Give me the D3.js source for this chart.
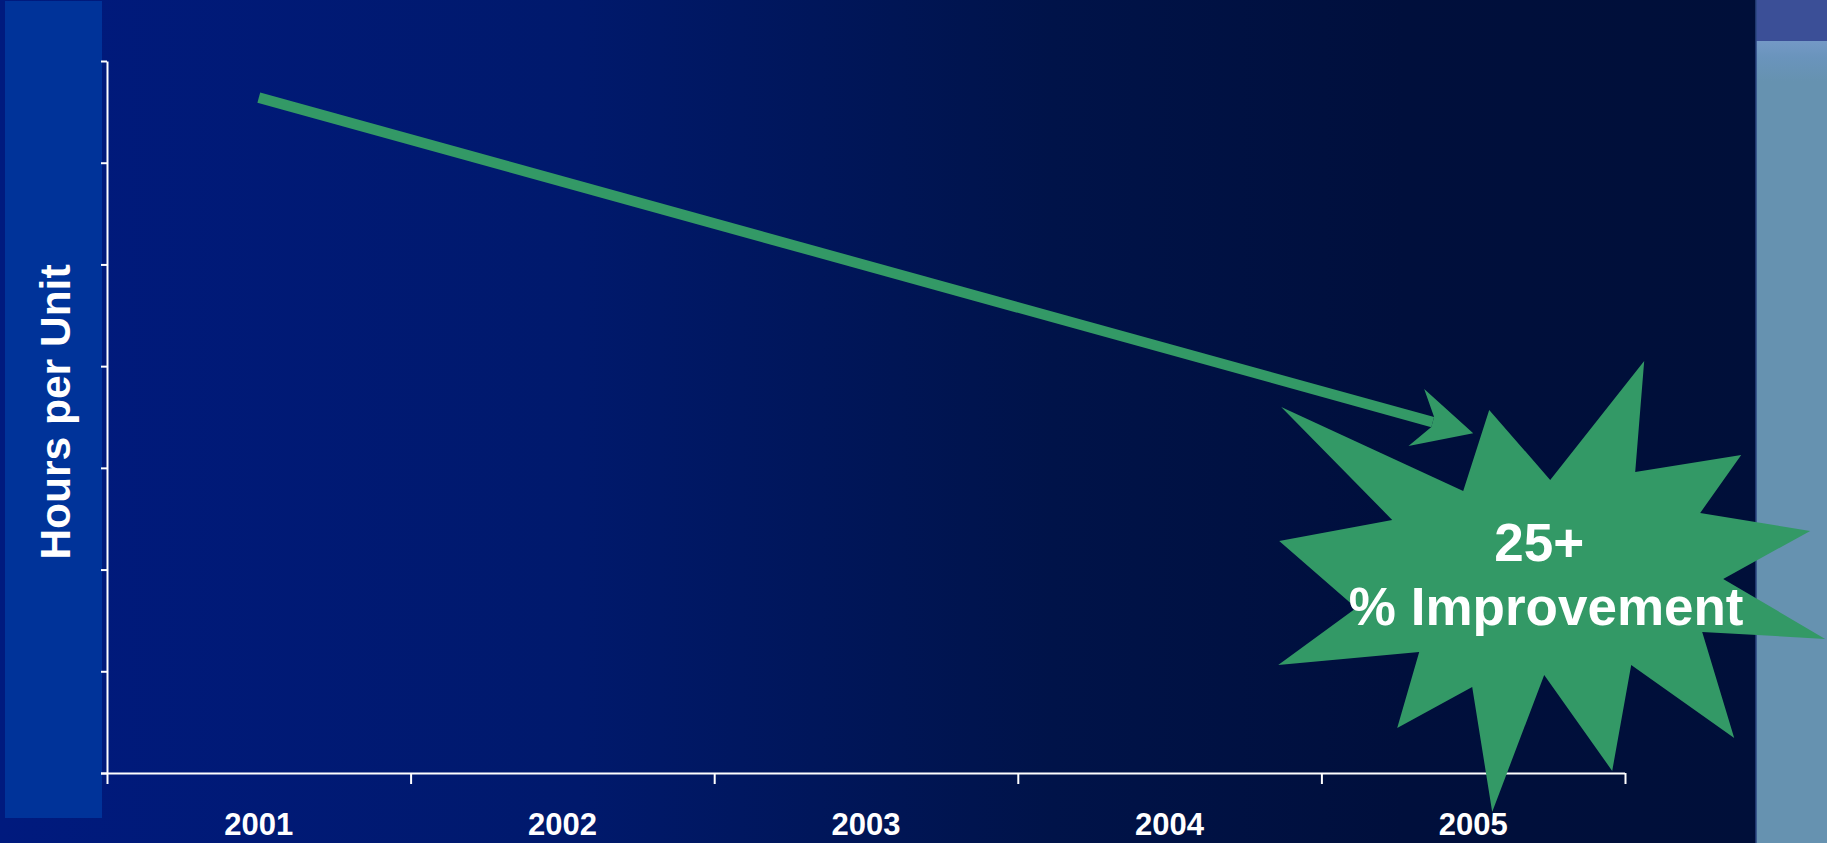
<!DOCTYPE html>
<html>
<head>
<meta charset="utf-8">
<script src="https://cdn.jsdelivr.net/npm/d3@7"></script>
<style>
  html, body { margin: 0; padding: 0; background: #001a7c; }
  svg { display: block; }
  text { font-family: "Liberation Sans", Arial, sans-serif; font-weight: bold; fill: #ffffff; }
</style>
</head>
<body>
<svg id="chart" width="1827" height="843"></svg>
<script>
// Years on the horizontal axis
const years = ["2001", "2002", "2003", "2004", "2005"];
// Hours-per-unit trend: first and last year of the period
const trendYears = ["2001", "2005"];
const trendValues = [6.64, 3.34];
// Unlabelled value ticks on the vertical axis
const yTicks = [0, 1, 2, 3, 4, 5, 6, 7];
// Callout text
const calloutLines = ["25+", "% Improvement"];
// Callout anchor (year, value) and starburst outline offsets around it
const calloutAnchor = { year: "2005", value: 1.8 };
const burstOutline = [
  [-61, -180], [0, -110], [94, -229], [85, -118], [191, -135], [150, -77],
  [260, -59], [173, -11], [275, 49], [152, 42], [184, 148], [81, 75],
  [62, 181], [-6, 85], [-58, 222], [-78, 97], [-153, 138], [-131, 62],
  [-272, 75], [-194, 18], [-271, -49], [-158, -70], [-269, -183], [-87, -99]
];

const W = 1827, H = 843;
const plot = { left: 107, right: 1625, top: 61, bottom: 773 };
const green = "#339966";

const svg = d3.select("#chart");
const defs = svg.append("defs");

// Slide background: navy fading to near-black towards the right
const bg = defs.append("linearGradient").attr("id", "bgGrad")
  .attr("x1", 0).attr("x2", 1).attr("y1", 0).attr("y2", 0);
[[0, "#001a7e"], [0.33, "#00196c"], [0.6, "#001349"], [0.8, "#000f3c"], [1, "#000f39"]]
  .forEach(([o, c]) => bg.append("stop").attr("offset", o).attr("stop-color", c));
svg.append("rect").attr("width", 1756).attr("height", H).attr("fill", "url(#bgGrad)");

// Right side panel
svg.append("rect").attr("x", 1756).attr("y", 0).attr("width", W - 1756).attr("height", 41).attr("fill", "#3b4f97");
const rp = defs.append("linearGradient").attr("id", "rpGrad")
  .attr("x1", 0).attr("x2", 0).attr("y1", 0).attr("y2", 1);
[[0, "#7499c6"], [0.02, "#6a94bc"], [0.05, "#6692b0"], [1, "#6692b0"]]
  .forEach(([o, c]) => rp.append("stop").attr("offset", o).attr("stop-color", c));
svg.append("rect").attr("x", 1756).attr("y", 41).attr("width", W - 1756).attr("height", H - 41).attr("fill", "url(#rpGrad)");
svg.append("line").attr("x1", 1756).attr("x2", 1756).attr("y1", 0).attr("y2", H)
  .attr("stroke", "#2b4680").attr("stroke-width", 1.5);

// Left title panel
svg.append("rect").attr("x", 5).attr("y", 1).attr("width", 97).attr("height", 817).attr("fill", "#003399");

// Scales
const x = d3.scaleBand().domain(years).range([plot.left, plot.right]).paddingInner(0).paddingOuter(0);
const xEdge = d3.scaleLinear().domain([0, years.length]).range([plot.left, plot.right]);
const y = d3.scaleLinear().domain([0, 7]).range([plot.bottom, plot.top]);
const xc = d => x(d) + x.bandwidth() / 2;

// Vertical axis (ticks only)
const yAxis = svg.append("g").attr("transform", `translate(${plot.left},0)`)
  .call(d3.axisLeft(y).tickValues(yTicks).tickFormat("").tickSize(6).tickSizeOuter(0));
yAxis.selectAll("path, line").attr("stroke", "#ffffff").attr("stroke-width", 2);

// Horizontal axis: tick marks between categories
const xAxis = svg.append("g").attr("transform", `translate(0,${plot.bottom})`)
  .call(d3.axisBottom(xEdge).tickValues(d3.range(years.length + 1)).tickFormat("").tickSize(11).tickSizeOuter(0));
xAxis.selectAll("path, line").attr("stroke", "#ffffff").attr("stroke-width", 2);
xAxis.select("path.domain").attr("d", `M${plot.left - 6},0.5H${plot.right}`);

// Category labels
const xLabels = svg.append("g").attr("transform", `translate(0,${plot.bottom})`)
  .call(d3.axisBottom(x).tickSize(0).tickSizeOuter(0));
xLabels.select("path.domain").remove();
xLabels.selectAll("text")
  .attr("y", 62).attr("dy", 0)
  .style("font-family", '"Liberation Sans", Arial, sans-serif')
  .style("font-weight", "bold").style("font-size", "31px").attr("fill", "#ffffff");

// Vertical axis title
svg.append("text")
  .attr("transform", "translate(70,412) rotate(-90)")
  .attr("text-anchor", "middle")
  .style("font-size", "42.5px")
  .text("Hours per Unit");

// Trend arrow
const p0 = [xc(trendYears[0]), y(trendValues[0])];
const p1 = [xc(trendYears[1]), y(trendValues[1])];
const ang = Math.atan2(p1[1] - p0[1], p1[0] - p0[0]);
const ux = Math.cos(ang), uy = Math.sin(ang), vx = -uy, vy = ux;
const pt = (a, b) => [p1[0] + ux * a + vx * b, p1[1] + uy * a + vy * b];
const shaftEnd = pt(-42, 0);
svg.append("path")
  .attr("d", d3.line()([p0, shaftEnd]))
  .attr("stroke", green).attr("stroke-width", 10.5).attr("fill", "none").attr("stroke-linecap", "butt");
svg.append("path")
  .attr("d", d3.line()([pt(0, 0), pt(-59, -29.5), pt(-42, -5.2), pt(-42, 5.2), pt(-59, 29.5)]) + "Z")
  .attr("fill", green);

// Starburst callout
const cx = xc(calloutAnchor.year) + 77, cy = y(calloutAnchor.value);
svg.append("path")
  .attr("d", d3.line()(burstOutline.map(([dx, dy]) => [cx + dx, cy + dy])) + "Z")
  .attr("fill", green);

svg.append("text").attr("x", cx - 11).attr("y", cy - 29)
  .attr("text-anchor", "middle").style("font-size", "53px").text(calloutLines[0]);
svg.append("text").attr("x", cx - 4).attr("y", cy + 35)
  .attr("text-anchor", "middle").style("font-size", "53px").text(calloutLines[1]);
</script>
</body>
</html>
